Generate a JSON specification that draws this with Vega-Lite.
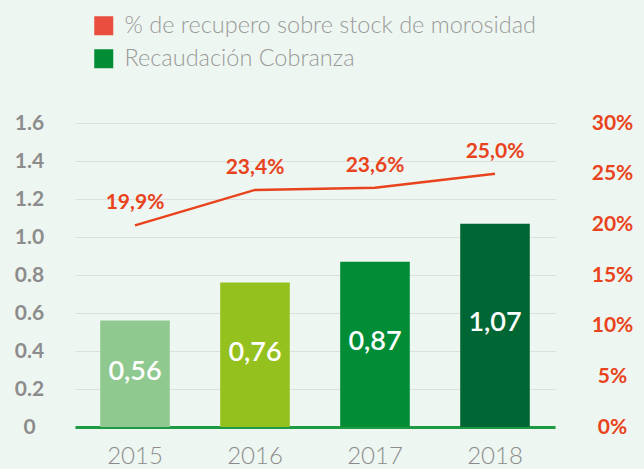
{
  "$schema": "https://vega.github.io/schema/vega-lite/v6.json",
  "width": 480,
  "height": 304,
  "autosize": {"type": "none"},
  "padding": {"left": 75, "top": 123, "right": 89, "bottom": 42},
  "background": "#eef6f1",
  "config": {"view": {"stroke": null}, "font": "Lato"},
  "datasets": {
    "main": [
      {"year": "2015", "cobranza": 0.56, "recupero": 0.199},
      {"year": "2016", "cobranza": 0.76, "recupero": 0.234},
      {"year": "2017", "cobranza": 0.87, "recupero": 0.236},
      {"year": "2018", "cobranza": 1.07, "recupero": 0.25}
    ],
    "series": [
      {"serie": "% de recupero sobre stock de morosidad"},
      {"serie": "Recaudación Cobranza"}
    ]
  },
  "layer": [
    {
      "data": {"name": "main"},
      "transform": [
        {"calculate": "datum.cobranza / 2", "as": "mid"},
        {"calculate": "replace(format(datum.cobranza, '.2f'), '.', ',')", "as": "lab"}
      ],
      "layer": [
        {
          "mark": {"type": "bar"},
          "encoding": {
            "x": {
              "field": "year", "type": "nominal",
              "scale": {"paddingInner": 0.42, "paddingOuter": 0.21},
              "axis": {
                "title": null, "labelAngle": 0, "ticks": false,
                "domainColor": "#1e9a44", "domainWidth": 3,
                "labelFontSize": 24, "labelFontWeight": 300, "labelColor": "#8c8c8c",
                "labelPadding": 17, "labelFont": "Lato"
              }
            },
            "y": {
              "field": "cobranza", "type": "quantitative",
              "scale": {"domain": [0, 1.6], "nice": false},
              "axis": {
                "title": null, "values": [0, 0.2, 0.4, 0.6, 0.8, 1.0, 1.2, 1.4, 1.6],
                "tickCount": 9,
                "labelOverlap": false, "labelSeparation": 0,
                "labelExpr": "datum.value == 0 ? '0' : format(datum.value, '.1f')",
                "domain": false, "ticks": false, "tickSize": 0,
                "gridColor": "#dcdfdc", "gridWidth": 1,
                "labelAlign": "center", "labelPadding": 46,
                "labelFontSize": 21, "labelFontWeight": 700, "labelColor": "#8c8c8c"
              }
            },
            "color": {
              "field": "year", "type": "nominal",
              "scale": {"range": ["#90c98f", "#95c11f", "#008d36", "#006633"]},
              "legend": null
            }
          }
        },
        {
          "mark": {"type": "text", "color": "white", "fontSize": 27, "fontWeight": 600, "baseline": "middle", "dy": -2},
          "encoding": {
            "x": {"field": "year", "type": "nominal"},
            "y": {
              "field": "mid", "type": "quantitative",
              "axis": {
                "title": null, "values": [0, 0.2, 0.4, 0.6, 0.8, 1.0, 1.2, 1.4, 1.6],
                "tickCount": 9,
                "labelOverlap": false, "labelSeparation": 0,
                "labelExpr": "datum.value == 0 ? '0' : format(datum.value, '.1f')",
                "domain": false, "ticks": false, "tickSize": 0,
                "gridColor": "#dcdfdc", "gridWidth": 1,
                "labelAlign": "center", "labelPadding": 46,
                "labelFontSize": 21, "labelFontWeight": 700, "labelColor": "#8c8c8c"
              }
            },
            "text": {"field": "lab"}
          }
        }
      ]
    },
    {
      "data": {"name": "main"},
      "transform": [
        {"calculate": "replace(format(datum.recupero, '.1%'), '.', ',')", "as": "lab"}
      ],
      "layer": [
        {
          "mark": {"type": "line", "color": "#e8431c", "strokeWidth": 2.5},
          "encoding": {
            "x": {"field": "year", "type": "nominal"},
            "y": {
              "field": "recupero", "type": "quantitative",
              "scale": {"domain": [0, 0.3]},
              "axis": {
                "orient": "right", "title": null, "format": ".0%",
                "values": [0, 0.05, 0.1, 0.15, 0.2, 0.25, 0.3],
                "labelOverlap": false,
                "grid": false, "domain": false, "ticks": false, "tickSize": 0,
                "labelAlign": "center", "labelPadding": 57,
                "labelFontSize": 21, "labelFontWeight": 700, "labelColor": "#e8431c"
              }
            }
          }
        },
        {
          "mark": {"type": "text", "color": "#e8431c", "fontSize": 21, "fontWeight": 700, "baseline": "middle", "dy": -22},
          "encoding": {
            "x": {"field": "year", "type": "nominal"},
            "y": {"field": "recupero", "type": "quantitative"},
            "text": {"field": "lab"}
          }
        }
      ]
    },
    {
      "data": {"name": "series"},
      "mark": {"type": "square", "opacity": 0},
      "encoding": {
        "fill": {
          "field": "serie", "type": "nominal",
          "scale": {
            "domain": ["% de recupero sobre stock de morosidad", "Recaudación Cobranza"],
            "range": ["#e94e3f", "#008d36"]
          },
          "legend": {
            "title": null, "orient": "none", "legendX": 17, "legendY": -109,
            "symbolType": "square", "symbolSize": 361, "symbolOpacity": 1,
            "symbolStrokeWidth": 0, "rowPadding": 8, "labelOffset": 9,
            "labelFontSize": 23.5, "labelFontWeight": 300, "labelColor": "#9a9a9a",
            "labelLimit": 600
          }
        }
      }
    }
  ],
  "resolve": {"scale": {"y": "independent", "color": "independent", "fill": "independent"}}
}
